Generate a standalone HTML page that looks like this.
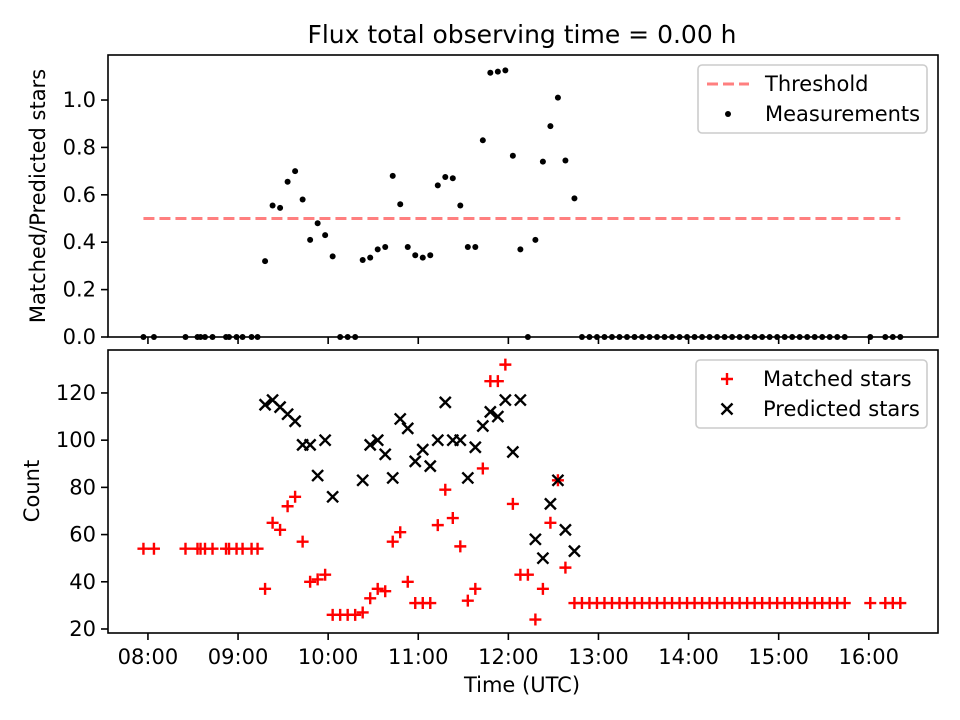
<!DOCTYPE html>
<html><head><meta charset="utf-8"><style>
html,body{margin:0;padding:0;background:#fff;}
svg{display:block;font-family:"DejaVu Sans","Liberation Sans",sans-serif;}
</style></head><body>
<svg id="chart" width="960" height="720" viewBox="0 0 960 720" xmlns="http://www.w3.org/2000/svg">
<rect x="0" y="0" width="960" height="720" fill="#fff"/>
<text x="522" y="43" font-size="25" text-anchor="middle" fill="#000">Flux total observing time = 0.00 h</text>
<g id="topG"></g>
<g id="botG"></g>
<text x="522" y="692" font-size="21" text-anchor="middle">Time (UTC)</text>
<text transform="translate(45,196) rotate(-90)" font-size="21" text-anchor="middle">Matched/Predicted stars</text>
<text transform="translate(39,491) rotate(-90)" font-size="21" text-anchor="middle">Count</text>
</svg>
<script>
// minutes after 08:00
const times = [-3,4,25,33,35,38,43,52,54,59,63,69,73,
78,83,88,93,98,103,108,113,118,123,128,133,138,143,148,153,158,163,168,173,178,183,188,193,198,203,208,213,218,223,228,233,238,243,248,253,258,263,268,273,278,284,
289,294,299,304,309,314,319,324,329,334,339,344,349,354,359,364,369,374,379,384,389,394,399,404,409,414,419,424,429,434,439,444,449,454,459,464,
481,491,496,501];
const matched = [54,54,54,54,54,54,54,54,54,54,54,54,54,
37,65,62,72,76,57,40,41,43,26,26,26,26,27,33,37,36,57,61,40,31,31,31,64,79,67,55,32,37,88,125,125,132,73,43,43,24,37,65,83,46,31,
31,31,31,31,31,31,31,31,31,31,31,31,31,31,31,31,31,31,31,31,31,31,31,31,31,31,31,31,31,31,31,31,31,31,31,31,
31,31,31,31];
const predicted = [null,null,null,null,null,null,null,null,null,null,null,null,null,
115,117,114,111,108,98,98,85,100,76,null,null,null,83,98,100,94,84,109,105,91,96,89,100,116,100,100,84,97,106,112,110,117,95,117,null,58,50,73,83,62,53,
null,null,null,null,null,null,null,null,null,null,null,null,null,null,null,null,null,null,null,null,null,null,null,null,null,null,null,null,null,null,null,null,null,null,null,null,
null,null,null,null];
const ratio = [0,0,0,0,0,0,0,0,0,0,0,0,0,
0.32,0.555,0.545,0.655,0.70,0.58,0.41,0.48,0.43,0.34,0,0,0,0.325,0.335,0.37,0.38,0.68,0.56,0.38,0.345,0.335,0.345,0.64,0.675,0.67,0.555,0.38,0.38,0.83,1.115,1.12,1.125,0.765,0.37,0,0.41,0.74,0.89,1.01,0.745,0.585,
0,0,0,0,0,0,0,0,0,0,0,0,0,0,0,0,0,0,0,0,0,0,0,0,0,0,0,0,0,0,0,0,0,0,0,0,
0,0,0,0];
const threshold = 0.5;
const xTickMinutes = [0,60,120,180,240,300,360,420,480];
const xTickLabels = ["08:00","09:00","10:00","11:00","12:00","13:00","14:00","15:00","16:00"];
const topTicks = [0,0.2,0.4,0.6,0.8,1.0];
const topTickLabels = ["0.0","0.2","0.4","0.6","0.8","1.0"];
const botTicks = [20,40,60,80,100,120];

const NS="http://www.w3.org/2000/svg";
const L=108,R=938,T1=55,B1=337,T2=350,B2=633;
const xMin=-26.6,xMax=526.1;
const x=m=>L+(m-xMin)/(xMax-xMin)*(R-L);
const yTop=v=>B1-(v-0)/(1.19-0)*(B1-T1);
const yBot=v=>B2-(v-18.3)/(138.2-18.3)*(B2-T2);
function mk(p,tag,a){const e=document.createElementNS(NS,tag);for(const k in a)e.setAttribute(k,a[k]);p.appendChild(e);return e;}
const topG=document.getElementById('topG'),botG=document.getElementById('botG');

let th=mk(topG,'line',{x1:x(-3),x2:x(501),y1:yTop(threshold),y2:yTop(threshold),stroke:'#ff7f7f','stroke-width':3,'stroke-dasharray':'11,5'});


times.forEach((t,i)=>{
  const c=mk(topG,'circle',{cx:x(t),cy:yTop(ratio[i]),r:3,fill:'#000'});
  
  
});
times.forEach((t,i)=>{
  const cx=x(t),cy=yBot(matched[i]);
  const g=mk(botG,'path',{d:`M${cx-6},${cy}H${cx+6}M${cx},${cy-6}V${cy+6}`,stroke:'#ff0000','stroke-width':2.4,fill:'none'});
  
  
});
times.forEach((t,i)=>{
  if(predicted[i]==null)return;
  const cx=x(t),cy=yBot(predicted[i]),s=5.5;
  const g=mk(botG,'path',{d:`M${cx-s},${cy-s}L${cx+s},${cy+s}M${cx-s},${cy+s}L${cx+s},${cy-s}`,stroke:'#000','stroke-width':2.4,fill:'none'});
  
  
});

function axes(g,T,B,ticks,labels,yf,showX){
  const f=mk(g,'rect',{x:L,y:T,width:R-L,height:B-T,fill:'none',stroke:'#000','stroke-width':1.6});
  
  
  ticks.forEach((v,i)=>{
    const y=yf(v);
    mk(g,'line',{x1:L-7,x2:L,y1:y,y2:y,stroke:'#000','stroke-width':1.6});
    const tx=mk(g,'text',{x:L-12,y:y+7,'font-size':21,'text-anchor':'end'});
    tx.textContent=labels[i];
    
    
  });
  xTickMinutes.forEach((m,i)=>{
    const xx=x(m);
    mk(g,'line',{x1:xx,x2:xx,y1:B,y2:B+7,stroke:'#000','stroke-width':1.6});
    if(showX){
      const tx=mk(g,'text',{x:xx,y:B+31,'font-size':21,'text-anchor':'middle'});
      tx.textContent=xTickLabels[i];
      
      
    }
  });
}
axes(topG,T1,B1,topTicks,topTickLabels,yTop,false);
axes(botG,T2,B2,botTicks,botTicks.map(String),yBot,true);

function legend(g,x0,y0,w,h,entries,name){
  const lg=mk(g,'g',{});
  
  
  mk(lg,'rect',{x:x0,y:y0,width:w,height:h,rx:4,fill:'#fff','fill-opacity':0.8,stroke:'#ccc','stroke-width':1.6});
  entries.forEach((e,i)=>{
    const cy=y0+19+i*30;
    e.draw(lg,cy);
    const t=mk(lg,'text',{x:x0+67,y:cy+7,'font-size':21});
    t.textContent=e.label;
    
    
  });
}
legend(topG,698,65,229,68,[
 {label:'Threshold',draw:(g,cy)=>mk(g,'line',{x1:707,x2:749,y1:cy,y2:cy,stroke:'#ff7f7f','stroke-width':3,'stroke-dasharray':'11,5'})},
 {label:'Measurements',draw:(g,cy)=>mk(g,'circle',{cx:728,cy:cy,r:3,fill:'#000'})}
],'top-legend');
legend(botG,696,360,231,68,[
 {label:'Matched stars',draw:(g,cy)=>mk(g,'path',{d:`M721,${cy}H733M727,${cy-6}V${cy+6}`,stroke:'#f00','stroke-width':2.4})},
 {label:'Predicted stars',draw:(g,cy)=>mk(g,'path',{d:`M721.5,${cy-5.5}L732.5,${cy+5.5}M721.5,${cy+5.5}L732.5,${cy-5.5}`,stroke:'#000','stroke-width':2.4})}
],'bottom-legend');
</script>
</body></html>
